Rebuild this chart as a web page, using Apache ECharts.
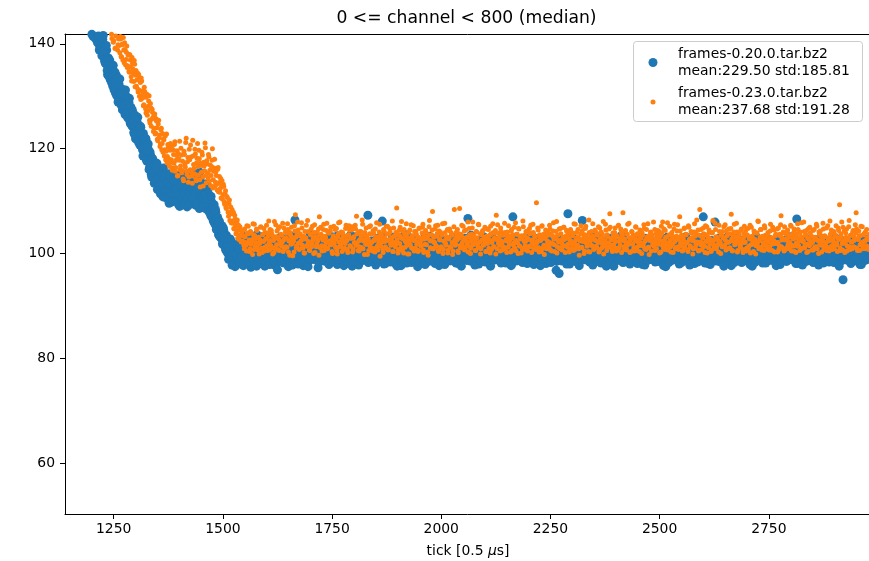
<!DOCTYPE html>
<html><head><meta charset="utf-8">
<script src="https://cdn.jsdelivr.net/npm/echarts@6/dist/echarts.min.js"></script>
<style>html,body{margin:0;padding:0;background:#fff}#c{width:869px;height:561px}</style>
</head><body><div id="c"></div>
<script>
const titleText = '0 <= channel < 800 (median)';
const blueName = 'frames-0.20.0.tar.bz2';
const orangeName = 'frames-0.23.0.tar.bz2';
const blueStats = 'mean:229.50 std:185.81';
const orangeStats = 'mean:237.68 std:191.28';
const xTicks = [1250, 1500, 1750, 2000, 2250, 2500, 2750];
const yTicks = [60, 80, 100, 120, 140];
const tickStep = 2;
const blueStartA = 1190;
const blueStartB = 1191;
const orangeStartA = 1244;
const orangeStartB = 1245;

// blue samples on even ticks (1190, 1192, ...)
const blueValsA = [
147.7,144.7,148.2,145.0,146.1,141.8,144.3,145.5,142.2,142.6,
141.3,143.8,140.6,142.0,139.4,141.9,140.7,137.9,141.6,137.8,
139.5,136.2,138.8,134.1,137.3,136.4,133.2,136.0,135.7,131.9,
134.8,132.1,130.6,134.0,131.5,128.9,132.4,133.3,129.0,131.1,
127.4,130.8,129.2,126.5,130.1,128.7,125.9,127.2,129.6,124.8,
127.8,124.3,126.6,123.1,125.7,121.9,124.8,125.0,121.6,123.9,
120.7,124.1,121.0,119.8,122.9,120.3,118.4,121.8,117.6,120.2,
119.6,116.4,118.9,115.1,118.2,114.8,117.5,113.9,116.8,115.6,
112.2,116.0,113.7,115.4,111.8,114.9,112.6,116.3,110.9,113.8,
114.1,110.5,113.3,115.2,111.0,112.6,109.8,114.4,112.9,110.6,
113.6,110.2,114.9,111.5,109.4,113.0,112.2,110.1,115.0,111.3,
109.6,113.9,111.0,112.7,108.9,114.2,110.6,112.3,113.5,109.8,
112.8,110.3,115.3,111.6,109.2,113.7,110.9,112.1,108.6,114.0,
111.9,109.5,113.2,110.4,112.7,108.6,111.5,110.0,112.4,108.7,
110.6,107.3,109.9,108.1,106.2,109.3,105.6,107.9,104.8,106.9,
103.6,106.2,104.1,102.9,105.3,101.7,104.4,102.0,100.9,103.5,
100.2,102.6,99.6,101.9,98.8,102.2,100.0,99.1,101.6,97.5,
98.6,
100.9,98.7,101.8,99.5,102.6,100.2,97.9,101.1,103.3,99.8,100.5,98.3,102.0,100.7,99.1,101.6,97.4,100.3,102.9,99.6,101.3,98.9,100.0,103.6,99.3,
101.7,100.4,98.1,102.3,99.9,100.8,101.5,97.6,100.1,102.7,99.4,101.0,98.6,103.0,100.6,99.2,101.9,100.3,97.8,102.1,100.9,99.7,101.4,98.4,100.2,
103.1,99.0,100.7,101.8,98.2,100.5,102.4,99.6,101.2,97.5,100.0,102.8,99.3,101.5,100.6,98.8,103.4,100.1,99.5,101.7,98.0,100.9,102.2,99.8,101.1,
100.4,97.7,101.9,100.2,99.1,102.5,100.8,98.5,101.3,103.7,99.6,100.0,101.6,98.9,100.7,102.0,99.2,101.4,97.3,100.5,102.6,99.9,101.0,100.3,98.6,
101.8,100.1,99.4,102.9,98.3,100.6,101.5,99.0,100.9,103.2,98.7,101.2,100.4,99.7,102.3,97.9,100.8,101.7,99.3,100.2,102.7,98.4,101.0,100.6,99.8,
100.0,102.1,98.9,101.4,99.5,103.5,100.7,97.6,101.9,100.3,99.1,102.4,100.9,98.2,101.3,100.5,99.6,102.8,98.8,101.1,100.2,103.0,99.4,100.8,101.6,
107.3,99.2,101.7,100.0,98.5,102.2,100.6,99.9,101.0,97.8,100.4,102.6,99.3,101.5,100.1,98.7,103.3,100.9,99.6,101.8,98.1,100.3,102.0,99.7,101.2,
100.7,98.4,101.6,103.1,99.5,100.2,101.9,98.0,100.8,102.5,99.0,101.3,100.4,97.7,102.1,100.0,99.4,101.7,100.6,98.6,103.6,100.3,99.8,101.1,100.9,
98.3,101.4,100.1,102.7,99.6,100.5,101.8,97.5,100.9,102.3,99.2,101.0,100.6,98.8,101.5,103.0,99.9,100.2,101.9,98.5,100.7,102.4,99.3,101.2,100.0,
99.5,102.0,98.1,100.8,101.6,99.0,103.4,100.4,98.9,101.3,100.1,99.7,102.6,97.9,100.6,101.0,99.4,102.2,100.3,98.6,101.7,100.9,99.1,103.1,100.5,
101.4,98.2,100.0,102.5,99.8,101.1,100.7,97.6,101.9,100.2,99.3,102.9,100.6,98.7,101.6,100.4,99.0,101.2,103.5,99.6,100.8,98.4,102.1,100.3,99.9,
101.5,100.1,98.0,102.3,99.5,100.9,101.8,99.2,100.4,102.7,98.6,101.0,100.6,99.7,101.4,97.8,100.2,103.2,99.9,101.3,100.5,98.8,102.0,100.7,99.4,
101.9,100.3,98.5,101.1,102.8,99.6,100.0,101.7,98.2,100.8,102.4,99.1,101.5,100.2,97.7,101.0,107.0,100.5,99.3,102.2,100.9,98.9,101.6,100.1,99.7,
102.6,100.4,98.3,101.3,99.8,103.0,100.7,99.0,101.8,100.2,98.6,102.1,100.9,99.5,101.2,97.9,100.6,102.9,99.2,101.4,100.0,98.4,101.9,100.3,99.9,
101.0,102.5,99.4,100.8,98.1,101.6,100.2,99.7,103.3,100.5,98.9,101.3,100.0,99.2,102.0,100.7,98.5,101.8,100.4,96.2,101.1,102.7,99.6,100.9,98.7,
100.3,101.7,99.1,102.3,107.6,100.6,98.0,101.4,100.1,99.8,102.8,100.4,98.6,101.0,100.8,99.3,101.9,97.7,100.5,102.2,99.5,101.2,100.0,98.8,101.6,
100.9,99.2,102.6,100.3,98.4,101.5,100.0,99.7,103.1,100.6,98.9,101.1,100.4,102.0,99.0,100.7,101.8,98.2,100.2,102.5,99.6,101.3,100.8,97.6,101.0,
100.5,102.9,99.3,101.6,100.1,98.5,101.9,100.6,99.8,102.4,100.2,98.7,101.4,100.9,99.4,103.4,100.0,98.3,101.7,100.4,99.1,102.1,100.7,99.9,101.2,
98.0,100.8,102.3,99.5,101.0,100.3,98.8,101.8,100.6,99.2,102.7,100.1,98.6,101.5,100.9,99.7,101.3,97.8,100.4,102.0,99.6,101.1,100.2,98.9,102.6,
100.7,99.0,101.7,100.0,98.4,101.9,100.5,99.8,103.0,100.2,98.7,101.2,100.8,99.3,102.2,100.6,97.5,101.4,100.1,99.9,102.8,100.4,98.6,101.6,100.3,
99.5,101.0,102.4,98.9,100.7,101.8,99.2,100.0,102.1,98.3,100.9,101.5,99.7,100.3,103.2,99.1,100.6,101.9,98.5,100.2,102.5,99.8,101.3,100.8,98.1,
101.1,100.4,99.6,102.7,100.0,98.8,101.6,100.9,99.3,107.0,100.5,98.2,101.8,100.1,99.9,102.3,100.6,97.9,101.2,100.3,99.4,102.0,100.8,98.6,101.5,
100.2,99.1,102.9,100.7,98.5,101.4,100.0,99.6,101.9,100.4,98.9,103.1,100.6,99.2,101.0,100.3,97.7,101.7,100.9,99.5,102.4,100.1,98.7,101.3,100.5,
99.8,101.6,100.2,98.3,102.2,100.8,99.4,101.1,100.0,98.6,102.6,100.5,99.9,101.8,100.3,97.6,101.2,100.7,99.0,103.3,100.1,98.8,101.5,100.9,99.7,
101.0,100.4,98.2,102.0,99.6,100.6,101.9,99.1,100.3,102.8,98.7,101.4,100.0,99.5,101.7,100.8,98.4,102.3,100.2,99.3,101.1,100.6,97.9,101.6,100.4,
99.9,102.5,100.1,98.6,101.3,100.7,99.2,102.1,100.5,98.9,101.8,100.0,99.7,103.0,100.3,98.1,106.6,100.9,99.4,101.5,100.2,98.8,102.4,100.6,99.6,
101.2,100.0,98.5,102.7,99.8,100.8,101.6,99.0,100.4,102.2,98.3,101.0,100.6,99.5,101.9,100.1,97.8,101.4,100.7,99.3,102.9,100.3,98.9,101.1,100.5,
99.7,101.7,100.2,98.4,102.0,100.9,99.1,101.3,100.0,98.7,102.6,100.4,99.6,101.8,100.8,98.2,101.0,100.3,99.4,95.0,101.5,100.6,98.8,102.3,100.1,
99.5,101.2,100.7,98.1,102.4,100.0,99.8,101.6,100.4,98.6,102.1,100.9,99.2,101.0,100.5,97.9,101.8,100.2,99.7,102.8,100.6,98.9,101.4,100.1,99.3
];

// blue samples on odd ticks (1191, 1193, ...)
const blueValsB = [
145.2,147.9,143.1,146.8,144.0,145.6,141.4,143.9,144.8,140.9,
143.6,140.2,141.5,138.8,142.9,139.3,137.7,140.8,138.6,136.7,
136.3,139.7,134.9,137.2,133.8,136.9,135.3,132.6,134.2,135.9,
131.2,134.6,132.9,130.1,133.5,129.7,131.8,130.5,128.3,131.4,
130.6,127.7,128.5,131.2,126.8,129.5,127.1,128.8,125.3,127.9,
124.6,127.3,125.2,122.8,126.4,124.1,123.3,126.0,121.2,123.7,
124.3,120.5,122.7,118.6,121.6,119.2,122.0,117.9,119.7,120.9,
116.0,119.4,117.3,114.6,118.1,115.5,113.4,116.9,114.0,117.2,
115.8,112.7,114.3,111.4,115.0,113.2,110.8,114.6,112.0,115.1,
110.9,113.6,112.1,109.6,114.8,111.7,113.1,110.2,114.0,111.5,
112.4,114.3,110.0,113.6,111.1,109.0,112.9,115.4,110.7,113.4,
111.2,109.3,114.7,112.5,110.4,113.8,111.6,109.4,115.2,112.0,
110.6,113.5,111.9,109.5,114.4,112.3,110.1,113.0,115.5,110.8,
112.9,110.6,108.9,113.0,111.1,109.7,113.3,110.4,108.1,111.2,
108.0,110.9,106.9,108.6,107.8,105.9,108.4,104.6,106.9,105.8,
106.1,103.2,105.0,104.3,101.9,104.9,102.7,103.3,100.6,102.9,
101.5,98.9,100.8,102.8,99.4,97.8,101.4,100.1,98.2,101.3,
99.8,101.5,98.6,100.9,102.2,99.3,101.0,100.4,97.7,102.6,100.1,99.0,101.8,100.6,98.4,103.1,99.7,100.8,101.3,98.9,100.3,102.4,99.5,97.6,101.2,
100.6,98.1,102.0,101.1,99.6,100.0,103.3,98.8,100.7,101.6,99.2,102.9,100.2,97.9,101.4,100.9,99.4,102.1,98.5,100.5,101.9,99.9,96.9,101.0,102.7,
99.1,100.4,101.7,98.3,100.8,102.3,99.7,101.2,100.0,98.7,103.5,100.6,99.3,101.5,97.8,100.2,102.6,106.4,99.8,101.1,100.5,98.2,102.0,100.9,99.5,
101.8,100.1,98.6,102.5,99.9,101.3,100.7,97.5,101.6,100.3,99.0,102.8,100.4,98.9,101.0,103.0,99.6,100.8,101.9,98.4,100.6,102.2,99.2,101.4,100.0,
98.8,101.7,100.2,99.4,102.9,100.5,97.9,101.1,100.9,99.7,102.3,98.5,100.7,101.5,99.1,100.3,103.4,98.9,101.2,100.6,99.3,102.0,100.1,97.7,101.8,
100.4,99.8,102.6,98.2,101.0,100.8,99.5,101.7,100.2,98.6,103.2,100.0,99.4,101.3,100.7,97.8,102.1,100.5,99.1,101.9,98.7,100.9,102.5,99.6,101.4,
100.1,98.3,101.6,100.6,99.9,102.4,98.9,100.3,101.8,99.2,100.7,102.9,98.5,101.1,100.0,99.6,101.5,106.2,100.4,98.0,102.2,100.8,99.3,101.0,100.5,
99.7,101.9,100.2,98.6,102.7,100.9,99.0,101.3,100.6,97.6,101.7,100.1,99.5,103.1,100.4,98.8,101.2,100.7,99.8,102.0,98.2,100.5,101.6,99.4,100.9,
102.3,99.1,100.6,101.4,98.7,100.0,102.8,99.6,101.1,100.3,98.4,101.9,100.8,99.2,102.5,100.2,97.9,101.5,100.9,99.7,101.0,103.3,98.6,100.4,101.7,
100.0,98.9,102.1,100.6,99.4,101.2,100.3,97.7,101.8,99.9,102.6,100.5,98.3,101.0,100.8,99.3,102.4,100.1,98.8,101.6,100.7,99.5,103.0,100.2,98.5,
101.3,100.9,99.6,102.2,98.1,100.4,101.7,99.8,100.6,102.9,98.9,101.1,100.0,99.2,101.5,106.7,100.3,98.6,102.0,100.8,99.4,101.4,100.1,97.8,101.9,
100.5,99.0,102.4,100.2,98.7,101.6,100.9,99.5,103.2,100.0,98.4,101.3,100.7,99.9,102.1,100.4,97.6,101.0,100.6,99.1,102.7,100.3,98.8,101.8,100.1,
99.7,101.5,100.8,98.2,102.3,100.0,99.3,101.2,100.5,98.9,102.8,100.6,99.6,101.7,100.2,97.9,101.4,100.9,99.0,103.1,100.4,98.6,101.1,100.7,99.8,
102.0,100.3,98.5,101.9,100.1,99.4,102.6,100.8,98.1,101.3,100.6,99.7,101.0,103.4,99.2,100.5,101.8,98.7,100.0,102.2,99.6,101.5,100.9,97.7,101.2,
100.4,98.9,102.5,100.7,99.1,101.6,100.2,99.8,102.9,100.0,98.3,101.4,100.8,99.5,101.1,100.3,96.8,101.7,100.6,99.2,102.3,100.1,98.6,101.0,100.5,
99.9,101.8,100.4,98.0,102.1,100.9,99.3,101.3,100.7,98.8,103.0,100.2,99.6,101.6,100.0,98.4,102.4,100.6,99.0,101.9,100.3,106.3,101.2,100.8,99.4,
101.5,100.1,98.7,102.7,100.5,99.2,101.0,100.9,97.8,101.8,100.4,99.7,102.2,100.0,98.5,101.4,100.7,99.1,102.8,100.3,98.9,101.6,100.2,99.8,101.1,
100.6,98.2,102.0,100.8,99.5,101.3,100.1,97.6,101.9,100.5,99.3,102.5,100.0,98.8,101.2,100.7,99.6,103.3,100.4,98.4,101.5,100.9,99.0,102.1,100.2,
99.4,101.7,100.3,98.6,102.6,100.0,99.8,101.1,100.6,98.1,101.8,100.4,99.2,102.3,100.8,97.9,101.4,100.1,99.7,102.9,100.5,98.7,101.0,100.9,99.5,
101.6,100.2,98.9,102.2,100.7,99.1,101.3,100.0,98.5,102.7,100.4,99.6,101.9,100.8,97.7,101.2,100.3,99.4,103.1,100.6,98.3,101.5,100.1,99.9,102.0,
100.5,98.8,101.7,100.9,99.3,102.4,100.2,98.0,101.1,100.6,99.7,102.8,100.0,98.6,101.6,100.4,99.1,102.1,100.7,97.8,101.3,100.9,99.5,102.6,100.3,
99.0,101.4,100.8,98.4,102.3,100.1,99.6,101.8,100.5,98.9,103.2,100.2,99.3,101.0,100.7,98.1,101.9,100.4,99.8,102.5,100.0,98.7,101.5,106.0,99.2,
101.2,100.6,98.5,102.0,100.3,99.4,101.7,100.9,97.6,101.3,100.1,99.9,102.7,100.5,98.8,101.6,100.2,99.0,102.2,100.8,98.3,101.1,100.4,99.7,103.0,
100.0,98.6,101.8,100.7,99.2,102.4,100.3,98.9,101.4,100.9,99.5,102.1,100.6,97.9,101.0,100.2,99.8,102.9,100.4,98.4,101.7,100.1,99.3,101.5,100.8,
98.7,102.3,100.5,99.1,101.2,100.0,98.2,102.6,100.7,99.6,101.9,100.3,98.9,101.3,100.9,99.4,102.0,100.2,97.7,101.6,100.6,99.0,102.8,100.4,98.6,
101.5,100.1,99.7,102.2,100.8,98.5,101.1,100.4,99.3,103.2,100.0,98.8,101.8,100.6,99.5,102.5,100.2,98.1,101.4,100.9,99.2,102.0,100.5,97.8,101.7,
100.3,99.0,102.6,100.7,98.7,101.3,100.1,99.8,102.1,100.4,98.4,101.9,100.8,99.3,102.7,100.0,98.9,101.5,100.6,99.6,102.3,100.2,98.2,101.0,100.9,
99.4,101.6,100.5,98.6,102.0,100.1,99.2,101.8,100.7,98.3,103.1,100.4,99.9,101.2,100.8,97.6,101.4,100.3,99.1,102.4,100.6,98.8,101.7,100.0,99.5,
102.1,100.2,98.5,101.3,100.9,99.7,102.5,100.4,98.9,101.0,100.6,99.3,102.2,100.1,97.9,101.8,100.7,99.6,102.9,100.3,98.7,101.5,100.8,99.0,101.9
];

// orange samples on even ticks (1244, 1246, ...)
const orangeValsA = [
143.1,141.0,144.0,140.6,142.5,139.2,141.9,143.3,139.8,141.1,
138.3,140.9,137.5,139.8,141.2,136.4,138.9,137.0,139.6,135.8,
138.0,134.6,136.9,133.7,137.4,135.2,132.8,136.1,134.0,131.9,
134.5,130.8,133.6,131.1,129.4,132.9,130.3,128.2,131.7,129.8,
126.8,130.4,127.2,129.1,125.4,128.6,124.3,127.5,126.0,123.9,
126.6,123.0,125.3,121.8,124.7,122.1,120.4,123.6,119.8,122.9,
121.9,118.6,122.4,119.5,117.3,120.8,118.1,116.6,121.0,117.9,
115.9,119.8,117.2,121.3,116.4,118.7,114.8,119.1,117.8,116.0,
120.1,115.4,117.6,113.9,118.9,116.5,122.0,115.1,118.3,114.6,
117.9,120.7,115.6,113.4,118.6,116.2,119.9,114.3,117.3,121.0,
115.0,118.1,112.7,116.8,119.3,114.6,117.4,115.8,120.2,113.5,
117.1,114.4,118.4,115.9,113.0,116.6,120.0,114.1,116.3,112.9,
115.6,113.2,116.1,111.8,114.7,112.4,110.6,113.9,111.2,112.8,
109.4,112.0,108.6,110.7,107.9,109.5,106.3,108.9,107.6,105.8,
107.9,104.7,106.6,103.8,105.9,102.9,105.4,103.3,104.6,102.2,
104.1,
103.4,101.6,104.7,102.1,100.5,103.9,105.2,102.6,100.9,104.1,102.3,99.8,103.6,105.6,101.4,102.9,104.4,100.7,103.1,101.9,105.0,102.4,100.2,103.7,104.8,
101.2,102.8,105.4,100.6,103.3,102.0,104.6,101.5,103.8,99.9,102.5,106.1,101.0,103.2,104.3,100.8,102.7,105.1,101.7,103.5,102.2,100.4,104.9,102.9,101.3,
103.9,105.7,100.3,102.6,104.0,101.8,103.1,99.6,102.4,105.3,107.4,101.1,103.6,104.5,100.9,102.0,103.4,105.9,101.6,102.8,100.1,104.2,103.0,101.4,106.3,
102.3,100.7,103.8,104.7,101.9,102.5,100.0,105.5,103.2,101.3,104.1,102.7,99.7,103.5,105.0,101.5,102.9,104.6,100.6,103.3,102.1,105.8,101.0,103.9,102.4,
104.3,101.7,100.4,103.0,105.2,102.6,101.2,104.8,99.9,103.7,102.2,106.0,101.5,102.8,104.0,100.8,103.4,101.9,105.4,102.5,100.2,103.6,104.5,101.4,102.9,
105.1,100.9,103.2,102.0,104.7,107.1,101.6,103.9,100.5,102.7,104.2,101.1,105.6,102.4,99.8,103.5,104.9,101.8,102.3,100.6,103.8,105.3,102.1,101.0,104.4,
102.6,100.3,103.1,105.9,101.5,102.8,104.1,99.5,103.6,102.2,100.9,104.6,103.0,101.3,105.2,102.5,100.7,103.7,104.8,101.9,102.4,106.2,100.4,103.3,101.7,
104.0,108.7,102.0,100.8,103.5,105.0,101.2,102.9,104.3,100.1,103.8,102.3,105.7,101.6,103.0,99.9,104.5,102.7,101.1,103.4,105.3,100.5,102.6,104.2,101.8,
103.2,100.6,104.9,102.1,101.4,103.9,105.6,100.2,102.8,104.4,101.7,103.1,99.7,105.1,102.5,101.0,103.6,108.0,100.9,102.2,104.7,101.5,103.3,105.4,100.4,
102.7,104.1,101.3,103.7,100.0,102.4,105.8,101.9,103.0,104.6,100.7,102.9,104.3,101.2,103.5,99.8,102.1,108.4,101.6,104.0,102.6,100.5,103.8,108.6,101.1,
103.4,102.0,105.2,100.8,102.9,104.5,101.5,103.1,100.3,104.8,102.3,101.0,103.7,106.0,101.8,102.6,100.6,104.2,103.0,101.4,105.5,102.2,99.9,103.6,104.1,
101.7,102.8,105.0,100.4,103.3,101.9,104.6,102.5,100.1,103.8,102.1,105.7,101.3,103.0,104.4,107.3,100.9,102.7,103.9,101.6,104.9,102.4,100.7,103.5,101.2,
104.0,102.6,100.2,103.2,105.3,101.8,102.9,104.3,100.6,103.6,102.0,101.1,105.9,102.5,103.7,100.0,104.7,101.4,102.8,103.4,100.8,105.1,102.3,101.5,104.2,
103.0,100.5,102.7,104.8,101.3,103.9,102.1,105.6,100.9,103.3,101.7,109.7,102.4,104.5,100.3,103.1,102.6,105.2,101.0,103.7,99.8,102.9,104.1,101.6,103.5,
102.2,105.4,100.7,103.6,101.9,104.3,102.8,100.4,103.2,106.1,101.3,102.5,104.7,100.9,103.8,102.0,101.5,105.0,102.7,100.2,103.4,104.4,101.8,102.9,100.6,
104.6,102.3,101.0,103.9,105.7,100.8,102.6,104.0,101.6,103.1,99.7,102.4,105.3,101.2,103.7,102.9,100.5,104.8,102.1,101.4,103.5,106.4,100.3,102.8,104.2,
101.5,103.3,100.9,104.5,102.5,101.1,103.8,105.1,100.6,102.7,104.1,101.9,103.0,99.9,102.2,105.6,101.3,103.6,102.0,104.7,107.6,101.7,102.9,100.4,103.4,
102.6,104.9,101.0,103.2,100.7,105.4,102.3,101.6,104.0,103.1,107.8,100.8,102.8,104.4,101.4,103.7,102.1,105.8,100.2,102.9,104.2,101.8,103.5,100.5,102.4,
105.0,101.2,103.6,102.7,100.4,104.3,102.0,103.9,101.5,105.5,100.9,102.6,104.6,101.1,103.3,99.8,102.5,104.1,103.0,101.7,106.0,102.2,100.6,103.8,101.9,
104.4,102.8,100.1,103.4,105.2,101.6,102.3,104.7,100.8,103.1,102.0,105.9,101.4,103.6,102.5,100.3,104.0,101.8,103.2,105.6,100.9,102.7,104.3,101.3,103.0,
107.0,101.9,103.5,100.5,102.9,104.8,101.2,103.7,102.1,100.7,105.3,102.6,101.5,104.2,103.0,99.9,102.4,105.7,101.0,103.8,102.2,104.5,100.6,108.4,101.7,
103.3,102.0,104.9,101.4,100.2,103.6,105.1,102.5,101.1,104.0,102.8,100.4,103.9,106.3,101.6,102.7,104.6,100.9,103.1,101.8,105.4,102.3,100.0,103.5,104.2,
101.3,102.9,105.5,100.7,103.4,102.1,104.7,101.0,103.8,107.5,100.6,102.4,104.1,101.7,103.2,105.8,100.3,102.6,103.7,101.5,104.4,102.0,100.8,103.0,105.2,
102.2,100.5,103.6,104.8,101.4,102.8,100.1,105.0,103.3,101.8,104.3,102.5,99.9,103.9,102.0,106.1,101.2,103.1,104.6,100.7,102.9,101.6,105.3,103.5,102.3,
100.9,104.0,102.7,101.3,105.6,103.0,100.6,102.4,104.5,101.9,103.7,102.1,100.3,104.9,101.5,103.4,107.2,102.6,101.0,103.9,105.1,100.8,102.8,104.2,101.7,
103.2,102.0,105.4,100.5,103.6,101.4,104.7,102.9,100.2,103.8,105.7,101.6,102.5,104.1,100.9,103.0,102.3,106.0,101.1,103.5,104.4,101.8,100.4,102.7,105.0,
101.9,103.3,102.1,100.7,104.6,103.1,101.3,105.2,102.6,100.0,103.7,104.3,101.6,102.4,105.8,100.8,103.4,102.0,104.9,101.2,103.0,100.5,106.2,102.8,101.5,
104.1,102.3,100.9,103.6,105.3,101.7,102.9,104.4,109.3,100.6,103.2,101.9,105.0,102.5,100.2,103.9,104.7,101.4,102.8,106.3,100.8,103.5,102.2,104.0,101.3,
103.1,105.5,107.8,101.0,102.7,104.3,100.6,103.4,102.0,105.1,101.6,103.8,102.4,100.9,104.6,102.9,101.2,103.7
];

// orange samples on odd ticks (1245, 1247, ...)
const orangeValsB = [
141.8,143.6,140.3,142.7,139.1,141.5,143.4,138.8,140.9,139.7,
141.4,137.6,139.9,136.9,138.8,140.2,136.0,138.4,135.5,137.8,
134.7,137.9,135.6,132.9,136.3,134.4,136.8,131.8,134.9,133.1,
131.4,134.2,130.0,132.6,133.5,129.6,131.0,128.4,130.9,127.6,
129.9,126.4,128.1,130.1,124.9,127.8,125.6,126.9,123.3,126.2,
122.8,125.7,124.0,121.5,125.4,122.6,120.9,123.9,121.0,119.3,
121.7,119.8,117.9,122.8,118.5,120.3,116.9,119.7,117.5,120.5,
116.3,118.9,120.8,115.7,117.8,119.6,114.9,118.1,121.4,116.7,
118.8,115.8,114.2,119.5,117.1,121.2,115.7,117.5,113.6,119.9,
116.0,118.4,114.8,121.6,117.0,115.2,119.0,113.9,118.2,116.6,
119.7,114.1,117.2,115.5,118.8,112.9,116.7,121.1,114.9,117.7,
115.3,118.9,113.8,116.9,114.9,117.8,112.5,115.7,118.0,113.6,
114.9,112.1,116.4,113.5,111.7,114.3,112.9,110.4,113.2,109.9,
111.4,108.8,110.9,109.7,107.1,110.2,107.8,105.9,108.4,106.2,
104.8,107.3,105.2,103.9,106.4,104.5,102.7,105.1,103.6,104.3,
102.4,104.5,100.9,103.2,101.6,105.3,102.0,103.8,100.4,104.2,101.8,102.7,105.7,100.8,103.4,102.1,104.7,101.3,103.0,99.9,102.6,105.1,101.0,103.6,102.3,
100.5,104.0,102.8,101.5,103.9,106.2,100.7,102.5,104.4,101.1,103.3,100.2,102.9,105.5,101.7,103.1,104.8,100.6,102.2,103.7,101.4,105.8,102.6,100.9,104.1,
103.0,101.2,104.6,102.4,99.7,103.5,105.0,101.9,102.7,100.3,104.3,103.1,101.5,106.0,102.0,100.8,103.8,102.5,104.9,101.0,103.3,100.1,102.8,105.4,101.6,
104.2,102.1,100.6,103.6,101.3,105.2,102.9,104.0,100.2,103.1,101.8,102.4,104.7,107.0,101.1,103.7,100.5,102.6,105.6,101.4,103.0,104.4,100.9,102.2,103.9,
101.7,105.0,102.5,100.0,103.4,101.9,104.6,102.8,100.7,103.2,105.9,101.3,102.0,104.1,100.4,103.6,102.3,101.0,104.8,102.7,100.8,103.5,105.3,101.5,102.9,
104.5,100.3,103.0,102.1,105.4,101.6,103.8,100.6,102.4,104.2,101.2,103.3,106.4,100.9,102.6,104.0,101.8,103.1,99.8,102.8,105.1,101.4,103.7,102.2,100.5,
103.9,102.5,104.7,101.1,103.2,100.7,102.0,105.6,101.5,103.6,102.9,100.2,104.3,102.3,101.0,103.8,105.2,100.8,102.7,104.1,101.6,103.0,100.4,104.9,102.1,
101.3,103.5,102.6,100.1,104.4,101.9,103.1,106.1,100.6,102.8,104.6,101.2,103.4,102.0,99.9,104.0,102.4,101.7,105.5,103.2,100.9,102.5,104.2,101.0,103.7,
102.2,100.4,104.8,103.0,101.5,102.7,105.0,100.7,103.3,101.8,104.1,102.9,100.3,103.6,106.3,101.1,102.4,104.5,100.9,103.1,102.0,105.3,101.4,103.8,100.6,
104.3,102.6,101.0,103.5,105.7,100.8,102.3,104.0,101.6,103.2,100.1,102.8,104.7,101.3,103.9,102.1,100.5,105.1,102.7,101.8,103.4,104.6,100.2,102.9,101.5,
103.7,105.4,101.2,102.5,104.3,100.7,103.0,102.2,106.0,101.4,103.6,100.0,102.8,104.9,101.7,103.3,102.4,100.6,104.1,102.0,105.6,101.1,103.8,100.9,102.6,
104.4,101.6,103.1,102.3,100.4,104.7,102.9,101.0,103.5,105.2,100.8,102.5,104.0,101.3,103.9,99.9,102.7,105.5,101.9,103.2,100.5,104.2,102.1,101.4,103.6,
105.8,100.9,102.4,104.1,101.2,103.4,102.6,100.3,104.6,103.0,101.7,105.0,102.2,100.6,103.7,102.0,104.8,101.5,103.1,100.1,102.9,106.2,101.0,103.5,102.3,
100.7,104.3,102.8,101.4,103.8,105.4,100.2,102.6,104.0,101.8,103.2,100.8,102.1,104.9,101.1,103.6,102.5,100.4,105.3,102.9,101.6,103.0,104.5,100.9,102.4,
103.9,101.3,104.7,102.0,100.5,103.3,105.9,101.7,102.8,104.2,100.1,103.5,102.2,101.0,104.8,102.6,100.7,103.1,105.0,101.5,102.9,104.3,101.2,103.7,100.3,
102.5,104.1,101.8,103.4,100.6,102.0,105.6,101.3,103.0,104.6,100.9,102.7,103.8,101.1,104.4,102.3,100.0,103.6,105.2,101.9,102.8,100.4,104.0,102.4,101.6,
103.2,105.7,100.8,102.6,104.2,101.4,103.5,102.1,100.3,104.9,102.9,101.0,103.7,106.1,101.5,102.4,104.5,100.6,103.1,102.0,101.2,105.0,102.7,100.9,103.9,
101.7,104.0,102.3,100.5,103.3,105.3,101.1,102.8,104.7,100.2,103.6,102.5,101.3,104.3,102.0,100.7,105.6,101.8,103.0,102.6,100.4,104.1,103.4,101.0,102.9,
105.1,100.6,103.8,102.2,101.5,104.5,102.9,100.0,103.5,101.9,104.8,102.4,100.8,103.1,105.7,101.2,102.7,104.0,100.5,103.6,102.1,101.4,104.6,102.8,100.9,
103.4,101.8,104.2,102.5,100.3,103.9,106.0,101.0,102.6,104.4,101.6,103.2,100.7,102.0,105.2,101.3,103.7,102.9,100.2,104.7,102.3,101.1,103.3,105.5,100.8,
102.7,104.3,101.5,103.0,100.6,102.4,104.9,101.9,103.6,102.1,100.4,105.0,102.8,101.2,103.9,102.5,100.9,104.1,103.3,101.7,106.4,102.0,100.5,103.5,102.2,
104.6,100.8,102.9,103.8,101.4,105.3,102.3,100.1,103.1,104.5,101.8,102.6,100.7,104.0,102.4,101.0,105.8,103.2,101.5,102.7,100.3,104.2,102.0,103.6,101.3,
103.0,105.1,101.6,102.5,104.3,100.9,103.7,102.2,101.1,104.8,102.8,100.5,103.4,105.6,101.8,102.3,104.1,100.6,103.1,102.0,101.3,104.7,102.6,100.2,103.8,
102.1,104.4,101.0,103.5,100.8,102.9,105.4,101.7,103.2,102.4,100.4,104.0,102.7,101.5,103.9,106.2,100.9,102.5,104.6,101.2,103.3,102.0,100.6,104.9,102.8,
101.4,103.6,102.2,100.7,104.3,103.0,101.8,105.0,102.5,100.3,103.4,101.9,104.7,102.1,100.8,103.7,105.5,101.3,102.9,104.1,100.5,102.6,103.8,101.1,104.5,
102.3,100.9,103.5,105.2,101.6,102.8,104.0,100.4,103.1,102.0,101.4,104.6,102.7,100.6,103.3,105.9,101.0,102.4,104.2,101.7,103.6,100.2,102.9,104.8,101.5,
103.9,102.2,100.7,104.4,102.6,101.2,103.0,105.6,100.9,102.5,104.1,101.8,103.4,100.3,102.8,104.7,101.4,103.2,102.1,100.6,105.3,102.4,101.0,103.7,104.5,
100.8,102.9,104.2,101.6,103.3,102.0,100.4,104.9,102.7,101.1,103.8,106.0,100.7,102.3,104.3,101.9,103.1,100.5,102.6,105.1,101.3,103.5,102.2,100.9,104.4,
102.5,101.2,103.9,104.7,100.6,102.8,103.4,101.7,105.2,102.1,100.9,103.6,102.4,104.1,101.5,103.0,102.7,100.8
];

function toPoints(start, values) {
  return values.map((v, i) => [start + i * tickStep, v]);
}

const FONT = 'DejaVu Sans';
const chart = echarts.init(document.getElementById('c'), null, {renderer: 'canvas'});
const xMin = 1138.5, xMax = 2984, yMin = 50.34, yMax = 141.87;
const labelStyle = {color: '#000', fontFamily: FONT, fontSize: 13.9};

const option = {
  animation: false,
  backgroundColor: '#ffffff',
  title: {
    text: titleText, left: 461.5, top: 5, textAlign: 'center',
    textStyle: {fontFamily: FONT, fontSize: 17.2, fontWeight: 'normal', color: '#000'}
  },
  grid: {left: 65, top: 34, right: -2, bottom: 47, containLabel: false, outerBoundsMode: 'none'},
  xAxis: [{
    type: 'value', min: xMin, max: xMax, position: 'bottom',
    axisLine: {show: true, onZero: false, lineStyle: {color: '#000', width: 1}},
    axisTick: {show: true, length: 5, customValues: xTicks, lineStyle: {color: '#000', width: 1}},
    axisLabel: Object.assign({customValues: xTicks, margin: 8, formatter: (v) => String(v)}, labelStyle),
    splitLine: {show: false},
    name: '{a|tick [0.5 }{b|μ}{a|s]}', nameLocation: 'middle', nameGap: 30, nameMoveOverlap: false,
    nameTextStyle: {
      fontFamily: FONT, fontSize: 13.9, color: '#000',
      rich: {
        a: {fontFamily: FONT, fontSize: 13.9, color: '#000'},
        b: {fontFamily: FONT, fontSize: 13.9, fontStyle: 'italic', color: '#000'}
      }
    }
  }, {
    type: 'value', min: xMin, max: xMax, position: 'top',
    axisLine: {show: true, onZero: false, lineStyle: {color: '#000', width: 1}},
    axisTick: {show: false}, axisLabel: {show: false}, splitLine: {show: false}
  }],
  yAxis: {
    type: 'value', min: yMin, max: yMax,
    axisLine: {show: true, onZero: false, lineStyle: {color: '#000', width: 1}},
    axisTick: {show: true, length: 5, customValues: yTicks, lineStyle: {color: '#000', width: 1}},
    axisLabel: Object.assign({customValues: yTicks, margin: 10, formatter: (v) => String(v)}, labelStyle),
    splitLine: {show: false}
  },
  legend: [{
    data: [{name: blueName, icon: 'circle'}],
    left: 648.5, top: 45.5, padding: 0, itemWidth: 9, itemHeight: 9,
    selectedMode: false, z: 20,
    formatter: (n) => n + '\n' + blueStats,
    textStyle: {fontFamily: FONT, fontSize: 13.9, color: '#000', lineHeight: 17, padding: [0, 0, 0, 15.5]}
  }, {
    data: [{name: orangeName, icon: 'circle'}],
    left: 650.5, top: 85, padding: 0, itemWidth: 5, itemHeight: 5,
    selectedMode: false, z: 20,
    formatter: (n) => n + '\n' + orangeStats,
    textStyle: {fontFamily: FONT, fontSize: 13.9, color: '#000', lineHeight: 17, padding: [0, 0, 0, 17.5]}
  }],
  graphic: [{
    type: 'rect', z: 15,
    shape: {x: 633.5, y: 41.5, width: 229, height: 80, r: 3},
    style: {fill: 'rgba(255,255,255,0.8)', stroke: '#cccccc', lineWidth: 1}
  }],
  series: [{
    type: 'scatter', name: blueName,
    data: toPoints(blueStartA, blueValsA).concat(toPoints(blueStartB, blueValsB)),
    symbol: 'circle', symbolSize: 9, clip: true, large: false, progressive: 0,
    itemStyle: {color: '#1f77b4', opacity: 1},
    emphasis: {disabled: true}
  }, {
    type: 'scatter', name: orangeName,
    data: toPoints(orangeStartA, orangeValsA).concat(toPoints(orangeStartB, orangeValsB)),
    symbol: 'circle', symbolSize: 5, clip: true, large: false, progressive: 0,
    itemStyle: {color: '#ff7f0e', opacity: 1},
    emphasis: {disabled: true}
  }]
};
chart.setOption(option);
</script>
</body></html>
